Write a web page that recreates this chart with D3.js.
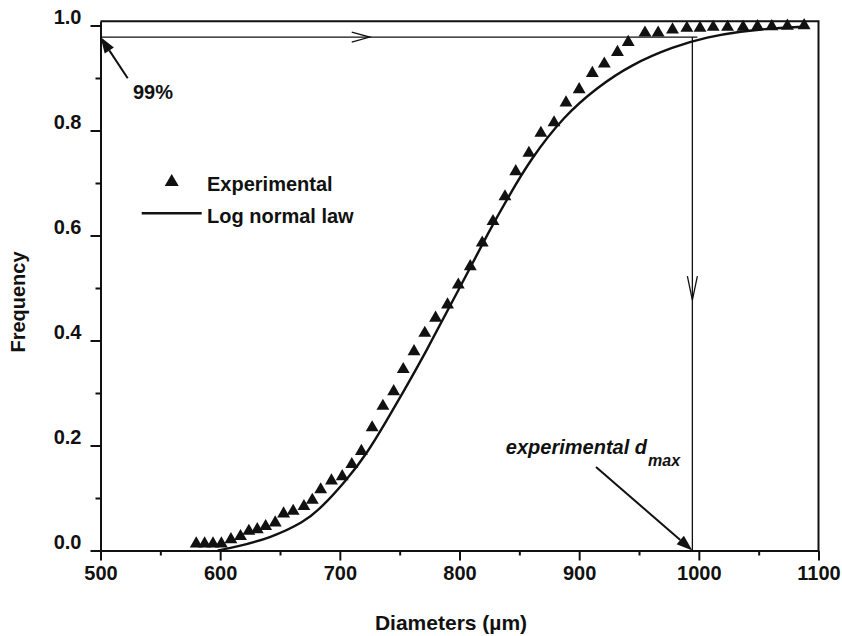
<!DOCTYPE html>
<html>
<head>
<meta charset="utf-8">
<script src="https://cdn.jsdelivr.net/npm/d3@7"></script>
<style>
	body { margin: 0; background: #fff; }
	text { font-family: "Liberation Sans", Arial, sans-serif; font-weight: bold; fill: #111; }
</style>
</head>
<body>
<div id="chart"></div>
<script>
// Experimental points (diameter in µm, cumulative frequency)
var expDiam = [580, 587, 594, 601, 609, 617, 624, 631, 638, 646, 653, 661, 670, 677, 684,
	693, 702, 710, 718, 727, 736, 745, 753, 762, 771, 780, 790, 799, 809, 819,
	828, 838, 847, 858, 868, 879, 889, 900, 911, 921, 932, 941, 955, 966, 978,
	990, 1001, 1012, 1024, 1037, 1049, 1061, 1074, 1088];
var expFreq = [0.013, 0.013, 0.013, 0.013, 0.021, 0.027, 0.037, 0.040, 0.046, 0.053, 0.070, 0.075, 0.084, 0.096, 0.116,
	0.133, 0.141, 0.164, 0.189, 0.234, 0.275, 0.303, 0.345, 0.379, 0.414, 0.443, 0.468, 0.506, 0.541, 0.586,
	0.627, 0.674, 0.722, 0.757, 0.795, 0.815, 0.853, 0.878, 0.909, 0.927, 0.949, 0.968, 0.986, 0.986, 0.992,
	0.995, 0.995, 0.997, 0.997, 0.997, 0.998, 0.998, 0.999, 1.0];

// Log normal law curve
var lnDiam = [598, 614, 642, 670, 684, 706, 723, 739, 753, 770, 798, 826, 841, 859, 887, 915, 943, 979, 1007, 1035, 1063, 1091];
var lnFreq = [0.0, 0.007, 0.024, 0.054, 0.080, 0.135, 0.186, 0.247, 0.302, 0.370, 0.491, 0.614, 0.674, 0.744, 0.827, 0.882, 0.925, 0.960, 0.978, 0.989, 0.995, 0.998];

var xTicks = [500, 600, 700, 800, 900, 1000, 1100];
var xMinor = [550, 650, 750, 850, 950, 1050];
var yTicks = [0, 0.2, 0.4, 0.6, 0.8, 1.0];
var yMinor = [0.1, 0.3, 0.5, 0.7, 0.9];

// annotation values
var level99 = 0.978;
var dMax = 994.6;

var width = 842, height = 636;
var svg = d3.select("#chart").append("svg").attr("width", width).attr("height", height);

var x = d3.scaleLinear().domain([500, 1100]).range([100.5, 818.5]);
var y = d3.scaleLinear().domain([0, 1.008]).range([550.5, 21.3]);

// frame (top and right)
svg.append("path")
	.attr("d", `M${x(500)},${y(1.008)}H${x(1100)}V${y(0)}`)
	.attr("fill", "none").attr("stroke", "#111").attr("stroke-width", 2);

// X-axis
var xAxis = svg.append("g").attr("transform", `translate(0,${y(0)})`)
	.call(d3.axisBottom(x).tickValues(xTicks).tickSize(10).tickSizeOuter(0).tickPadding(5).tickFormat(d3.format("d")));
svg.append("g").attr("transform", `translate(0,${y(0)})`)
	.call(d3.axisBottom(x).tickValues(xMinor).tickSize(5).tickFormat(""))
	.select(".domain").remove();

// Y-axis
var yAxis = svg.append("g").attr("transform", `translate(${x(500)},0)`)
	.call(d3.axisLeft(y).tickValues(yTicks).tickSize(10).tickSizeOuter(0).tickPadding(9).tickFormat(d3.format(".1f")));
svg.append("g").attr("transform", `translate(${x(500)},0)`)
	.call(d3.axisLeft(y).tickValues(yMinor).tickSize(5).tickFormat(""))
	.select(".domain").remove();

svg.selectAll(".domain, .tick line").attr("stroke", "#111").attr("stroke-width", 2);
xAxis.selectAll("text").style("font-size", "20px").attr("fill", "#111");
yAxis.selectAll("text").style("font-size", "20px").attr("fill", "#111").attr("dy", "-0.12em");

// Axis titles
svg.append("text")
	.attr("x", 451).attr("y", 630)
	.attr("text-anchor", "middle")
	.attr("font-size", "21px")
	.text("Diameters (µm)");
svg.append("text")
	.attr("transform", "translate(25,302) rotate(-90)")
	.attr("text-anchor", "middle")
	.attr("font-size", "20px")
	.text("Frequency");

// 99% level and dmax guide lines
svg.append("path")
	.attr("d", `M${x(500)},${y(level99)}H${x(dMax) + 5}M${x(dMax)},${y(level99)}V${y(0)}`)
	.attr("fill", "none").attr("stroke", "#111").attr("stroke-width", 1.3);

// open arrow heads on the guide lines
var hx = x(725), hy = y(level99);
svg.append("path")
	.attr("d", `M${hx - 18},${hy - 5}L${hx},${hy}L${hx - 18},${hy + 5}`)
	.attr("fill", "none").attr("stroke", "#111").attr("stroke-width", 1.3);
var vx = x(dMax), vy = y(0.477);
svg.append("path")
	.attr("d", `M${vx - 5},${vy - 24}L${vx},${vy}L${vx + 5},${vy - 24}`)
	.attr("fill", "none").attr("stroke", "#111").attr("stroke-width", 1.3);

// Log normal curve
var line = d3.line().x((d, i) => x(lnDiam[i])).y((d, i) => y(lnFreq[i])).curve(d3.curveBasis);
svg.append("path")
	.datum(lnDiam)
	.attr("d", line)
	.attr("fill", "none").attr("stroke", "#111").attr("stroke-width", 2.4);

// Experimental triangles
var tri = d3.symbol().type(d3.symbolTriangle).size(72);
svg.selectAll(".pt")
	.data(expDiam)
	.join("path")
	.attr("class", "pt")
	.attr("d", tri)
	.attr("transform", (d, i) => `translate(${x(d)},${y(expFreq[i])})`)
	.attr("fill", "#111");

// filled arrows
function arrow(x1, y1, x2, y2) {
	var ang = Math.atan2(y2 - y1, x2 - x1);
	var len = 16, half = 5.5;
	var bx = x2 - len * Math.cos(ang), by = y2 - len * Math.sin(ang);
	svg.append("line")
		.attr("x1", x1).attr("y1", y1).attr("x2", bx).attr("y2", by)
		.attr("stroke", "#111").attr("stroke-width", 2);
	svg.append("path")
		.attr("d", `M${x2},${y2}L${bx - half * Math.sin(ang)},${by + half * Math.cos(ang)}L${bx + half * Math.sin(ang)},${by - half * Math.cos(ang)}Z`)
		.attr("fill", "#111");
}
arrow(127.7, 78.3, x(500), y(level99));
arrow(596, 467, x(dMax), y(0));

svg.append("text").attr("x", 133).attr("y", 99).attr("font-size", "20px").text("99%");

var dm = svg.append("text").attr("y", 454).attr("font-size", "20px").attr("font-style", "italic");
dm.append("tspan").attr("x", 647).attr("text-anchor", "end").text("experimental d");
svg.append("text").attr("x", 648).attr("y", 466).attr("font-size", "16px").attr("font-style", "italic").text("max");

// Legend
svg.append("path")
	.attr("d", d3.symbol().type(d3.symbolTriangle).size(85))
	.attr("transform", "translate(171.7,182)")
	.attr("fill", "#111");
svg.append("text").attr("x", 207).attr("y", 191).attr("font-size", "20px").text("Experimental");
svg.append("line")
	.attr("x1", 141.7).attr("x2", 201.7).attr("y1", 213.3).attr("y2", 213.3)
	.attr("stroke", "#111").attr("stroke-width", 2.4);
svg.append("text").attr("x", 207).attr("y", 223).attr("font-size", "20px").text("Log normal law");
</script>
</body>
</html>
